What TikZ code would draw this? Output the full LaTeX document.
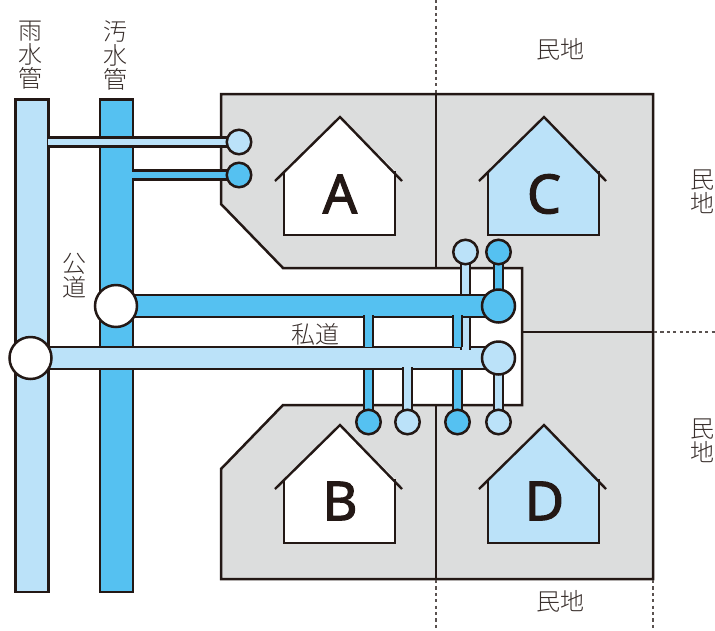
\documentclass[tikz,border=0pt]{standalone}
\usepackage{fontspec}
\setmainfont{Noto Sans}
\newfontfamily\cjk{Noto Sans CJK JP Light}
\newfontfamily\latinbig{Noto Sans}[FakeBold=2]
\definecolor{ink}{HTML}{231815}
\definecolor{raincol}{HTML}{BBE2F9}
\definecolor{sewcol}{HTML}{55C1F1}
\definecolor{lotcol}{HTML}{DCDDDD}
\pgfdeclarelayer{under}
\pgfsetlayers{under,main}
\tikzset{
  lot/.style={draw=ink,line width=2.5pt,fill=lotcol,line join=miter},
  lotline/.style={draw=ink,line width=2.4pt},
  dashline/.style={draw=ink!75,line width=1.1pt,dash pattern=on 3.2pt off 3.2pt},
  mainpipe/.style={draw=ink,line width=2.6pt,inner sep=0pt,minimum width=33pt,minimum height=492.5pt,anchor=north},
  rainbar/.style={mainpipe,fill=raincol},
  sewbar/.style={mainpipe,fill=sewcol},
  rainbig/.style={draw=ink,line width=2.6pt,double=raincol,double distance=19.5pt},
  sewbig/.style={draw=ink,line width=2.6pt,double=sewcol,double distance=19.5pt},
  rainsmall/.style={draw=ink,line width=2.6pt,double=raincol,double distance=6.6pt},
  sewsmall/.style={draw=ink,line width=2.6pt,double=sewcol,double distance=6.6pt},
  port/.style={circle,draw=ink,line width=2.5pt,inner sep=0pt,minimum size=24.5pt},
  rainport/.style={port,fill=raincol},
  sewport/.style={port,fill=sewcol},
  rainjoint/.style={port,fill=raincol,minimum size=33pt},
  sewjoint/.style={port,fill=sewcol,minimum size=33pt},
  whitejoint/.style={port,fill=white,minimum size=42pt},
  housefill/.style={draw=ink,line width=2.2pt,line join=miter},
  roof/.style={draw=ink,line width=2.4pt,line join=miter},
  lbl/.style={text=ink!90,inner sep=0pt,align=center,font=\cjk\fontsize{24}{24}\selectfont},
  letter/.style={text=ink,inner sep=0pt,font=\latinbig\fontsize{54}{54}\selectfont}
}
\begin{document}
\begin{tikzpicture}[x=1pt,y=-1pt]
\useasboundingbox (0,0) rectangle (715,630);
% ports
\node[rainport] (ra) at (239,142) {};
\node[sewport] (sa) at (239,175) {};
\node[whitejoint] (sw) at (116,306) {};
\node[whitejoint] (rw) at (30.5,358) {};
\node[sewjoint] (sj) at (498.5,306) {};
\node[rainjoint] (rj) at (498.5,358) {};
\node[rainport] (ru) at (465.5,252) {};
\node[sewport] (su) at (498.5,252) {};
\node[sewport] (s1) at (368.5,422) {};
\node[rainport] (r1) at (407.5,422) {};
\node[sewport] (s2) at (457.5,422) {};
\node[rainport] (r2) at (498.5,422) {};
% labels
\node[lbl] (t1) at (31,55) {雨\\水\\管};
\node[lbl] (t2) at (115,55) {汚\\水\\管};
\node[lbl] (t3) at (74.5,276) {公\\道};
\node[lbl] (t4) at (315,334) {私道};
\node[lbl] (t5) at (560,49) {民地};
\node[lbl] (t6) at (560,601) {民地};
\node[lbl] (t7) at (702,192) {民\\地};
\node[lbl] (t8) at (702,441) {民\\地};
\begin{pgfonlayer}{under}
% lots
\path[lot] (221,94) -- (653,94) -- (653,579) -- (221,579) -- (221,469) -- (283,405) -- (522,405) -- (522,268) -- (283,268) -- (221,204) -- cycle;
\draw[lotline] (436,94) -- (436,268);
\draw[lotline] (436,405) -- (436,579);
\draw[lotline] (522,332) -- (653,332);
\draw[dashline] (436,0) -- (436,93);
\draw[dashline] (436,580) -- (436,628);
\draw[dashline] (653,580) -- (653,628);
\draw[dashline] (654,332) -- (715,332);
% houses
\foreach \hx/\hy/\hc in {340/117/white,544/117/raincol,340/425/white,544/425/raincol}{
  \path[fill=\hc] (\hx,\hy) -- (\hx+55,\hy+54) -- (\hx+55,\hy+118) -- (\hx-56,\hy+118) -- (\hx-56,\hy+54) -- cycle;
  \draw[housefill] (\hx-56,\hy+54) -- (\hx-56,\hy+118) -- (\hx+55,\hy+118) -- (\hx+55,\hy+54);
  \draw[roof] (\hx-65,\hy+64) -- (\hx,\hy) -- (\hx+62,\hy+64);
}
\node[letter] (la) at (340,194) {A};
\node[letter] (lc) at (544,194) {C};
\node[letter] (lb) at (340,501) {B};
\node[letter] (ld) at (544.5,501) {D};
% vertical mains
\node[rainbar] (rainv) at (32,98) {};
\node[sewbar] (sewv) at (116.5,98) {};
% branches to the lot ports
\draw[rainsmall] (47.5,142) -- (ra.center);
\draw[sewsmall] (132,175) -- (sa.center);
% private road pipes
\draw[rainbig] (rw.center) -- (rj.center);
\draw[rainsmall] (ru.center) -- (465.5,349.5);
\draw[sewbig] (sw.center) -- (sj.center);
\draw[sewsmall] (s1.center |- 0,315) -- (s1.center |- 0,347);
\draw[sewsmall] (s2.center |- 0,315) -- (s2.center |- 0,347);
\fill[sewcol] (365.2,314) rectangle (371.8,346);
\fill[sewcol] (454.2,314) rectangle (460.8,346);
\draw[sewsmall] (s1.center |- 0,370) -- (s1.center);
\draw[sewsmall] (s2.center |- 0,370) -- (s2.center);
\draw[rainsmall] (r1.center |- 0,367) -- (r1.center);
\draw[sewsmall] (su.center) -- (sj.center);
\draw[rainsmall] (r2.center) -- (rj.center);
\end{pgfonlayer}
\end{tikzpicture}
\end{document}
